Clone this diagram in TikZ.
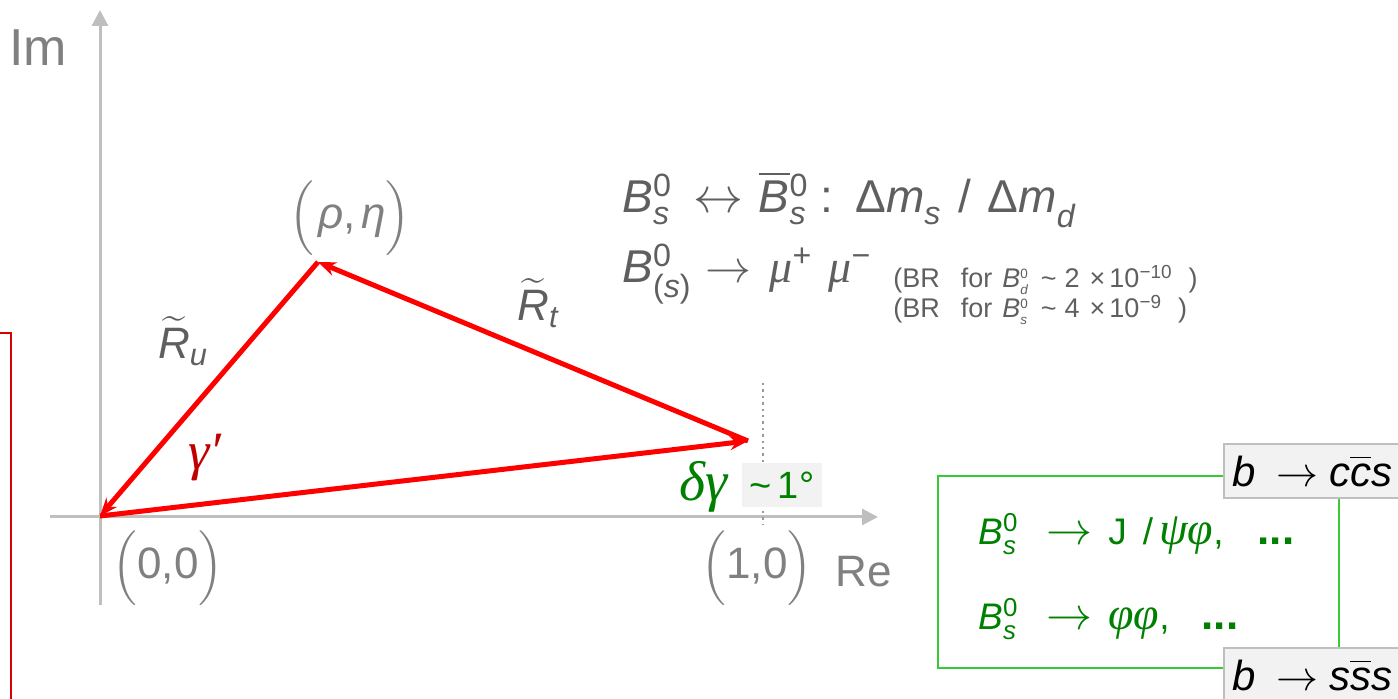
\documentclass[tikz,border=0pt]{standalone}
\usepackage{fix-cm}
\usepackage{amsmath}
\usepackage{fontspec}
\setmainfont{Liberation Sans}
\newfontfamily\greekfont{Liberation Serif}
\usetikzlibrary{arrows.meta}

\definecolor{axisgray}{HTML}{BFBFBF}
\definecolor{labelgray}{HTML}{808080}
\definecolor{textgray}{HTML}{5F5F5F}
\definecolor{vecred}{HTML}{FF0000}
\definecolor{anglered}{HTML}{C00000}
\definecolor{darkgreen}{HTML}{008000}
\definecolor{framegreen}{HTML}{33CC33}
\definecolor{boxfill}{HTML}{F2F2F2}

\newcommand{\gk}[1]{{\greekfont\itshape #1}}
\newcommand{\supsub}[2]{\ensuremath{^{\text{#1}}_{\text{#2}}}}
\newcommand{\tinysupsub}[2]{\ensuremath{^{\scriptscriptstyle\text{#1}}_{\scriptscriptstyle\text{#2}}}}
\newcommand{\fs}[1]{\fontsize{#1}{#1}\selectfont}
\newcommand{\bigto}[1]{{\fs{#1}$\rightarrow$}}

\tikzset{
  axis/.style={axisgray, line width=1.5pt, -{Triangle[length=8pt,width=8pt]}},
  vec/.style={vecred, line width=2.5pt, -{Stealth[length=9pt,width=7pt]}},
  coordlabel/.style={text=labelgray, font=\fs{22}, inner sep=0pt},
  sidelabel/.style={text=textgray, font=\fs{22}, inner sep=0pt},
  formula/.style={text=textgray, inner sep=0pt, anchor=base west},
  decay/.style={text=darkgreen, font=\fs{18.5}, inner sep=0pt, anchor=base west},
  quarkbox/.style={draw=axisgray, fill=boxfill, line width=0.8pt, anchor=north west,
    minimum height=27pt, text width=90pt, inner xsep=4.5pt, inner ysep=0pt, font=\fs{21}}
}

\begin{document}
\begin{tikzpicture}[x=0.5pt,y=-0.5pt]
\useasboundingbox (0,0) rectangle (1398,699);

% Axes
\coordinate (xl) at (50,517);
\coordinate (xr) at (878,517);
\coordinate (yb) at (100,605);
\coordinate (yt) at (100,10);
\draw[axis] (xl) -- (xr);
\draw[axis] (yb) -- (yt);
\node[text=labelgray, font=\fs{26}, inner sep=0pt] (im) at (38,48) {Im};
\node[text=labelgray, font=\fs{22}, inner sep=0pt] (re) at (864,572) {Re};

% Dotted guide at (1,0)
\coordinate (d1) at (763,383);
\coordinate (d2) at (763,525);
\draw[axisgray!80!black, line width=1.2pt, dotted] (d1) -- (d2);

% Left frame edge
\coordinate (f1) at (0,333);
\coordinate (f2) at (11,333);
\coordinate (f3) at (11,705);
\draw[red!85!black, line width=0.8pt] (f1) -- (f2) -- (f3);

% Triangle corners
\coordinate (O) at (100,516);
\coordinate (P) at (318,262);
\coordinate (Q) at (748,441);

% Red vectors
\draw[vec] (Q) -- (P);
\draw[vec] (P) -- (O);
\draw[vec] (O) -- (Q);

% Corner labels
\node[coordlabel] (origin) at (168,568) {$\Bigl($0,0$\Bigr)$};
\node[coordlabel] (one) at (757,568) {$\Bigl($1,0$\Bigr)$};
\node[coordlabel] (apex) at (350,218) {$\Bigl($\hspace{2pt}\textit{ρ},\hspace{3pt}\textit{η}$\Bigr)$};

% Side labels
\node[sidelabel] (ru) at (183,341) {$\widetilde{\text{\itshape R}}_{\text{\itshape u}}$};
\node[sidelabel] (rt) at (538,303) {$\widetilde{\text{\itshape R}}_{\text{\itshape t}}$};

% Angles
\node[text=anglered, font=\fs{27}, inner sep=0pt] (gam) at (205,458) {\gk{γ′}};
\node[text=darkgreen, font=\fs{28}, inner sep=0pt] (dgam) at (704,487) {\gk{δγ}};
\node[fill=boxfill, text=darkgreen, font=\fs{19}, minimum width=40pt, minimum height=22pt,
  inner sep=0pt] (deg) at (782,485) {\textasciitilde\hspace{3pt}1°};

% Observables
\node[formula, font=\fs{23}] (mix) at (622,213)
  {\textit{B}\supsub{0}{\itshape s}\hspace{11pt}{\fs{25}$\leftrightarrow$}\hspace{7.5pt}$\overline{\text{\itshape B}}$\supsub{0}{\itshape s}\hspace{6pt}:\hspace{11pt}Δ\textit{m}\supsub{}{\itshape s}\hspace{2pt} / \hspace{2pt}Δ\textit{m}\supsub{}{\itshape d}};
\node[formula, font=\fs{23}] (mumu) at (622,283)
  {\textit{B}\supsub{0}{(\itshape s\upshape)}\hspace{7pt}\bigto{23}\hspace{9pt}\gk{μ}\supsub{+}{}\hspace{8pt}\gk{μ}\supsub{−}{}};
\node[formula, font=\fs{13.5}] (brd) at (893,288)
  {(BR\hspace{10.5pt}for\hspace{5pt}\textit{B}\tinysupsub{0}{\itshape d}\hspace{6pt}\textasciitilde\hspace{4pt}2\hspace{5pt}×\hspace{2pt}10\supsub{−10}{}\hspace{8pt})};
\node[formula, font=\fs{13.5}] (brs) at (893,318)
  {(BR\hspace{10.5pt}for\hspace{5pt}\textit{B}\tinysupsub{0}{\itshape s}\hspace{6pt}\textasciitilde\hspace{4pt}4\hspace{5pt}×\hspace{2pt}10\supsub{−9}{}\hspace{8pt})};

% Green frame and quark boxes
\coordinate (g1) at (938,476);
\coordinate (g2) at (1339,668);
\draw[framegreen, line width=0.8pt] (g1) rectangle (g2);
\node[decay] (jpsi) at (978,545)
  {\textit{B}\supsub{0}{\itshape s}\hspace{14pt}\bigto{23}\hspace{8pt}J\hspace{8pt}/\hspace{3pt}{\fs{23}\gk{ψφ}},\hspace{17pt}{\fs{22}\textbf{...}}};
\node[decay] (phiphi) at (978,630)
  {\textit{B}\supsub{0}{\itshape s}\hspace{14pt}\bigto{23}\hspace{8pt}{\fs{23}\gk{φφ}},\hspace{16pt}{\fs{22}\textbf{...}}};
\node[quarkbox] (ccs) at (1223,443)
  {\textit{b}\hspace{10pt}\bigto{21}\hspace{5.5pt}\textit{c}$\overline{\text{\itshape c}}$\textit{s}};
\node[quarkbox] (sss) at (1223,647)
  {\textit{b}\hspace{10pt}\bigto{21}\hspace{5.5pt}\textit{s}$\overline{\text{\itshape s}}$\textit{s}};

\end{tikzpicture}
\end{document}
